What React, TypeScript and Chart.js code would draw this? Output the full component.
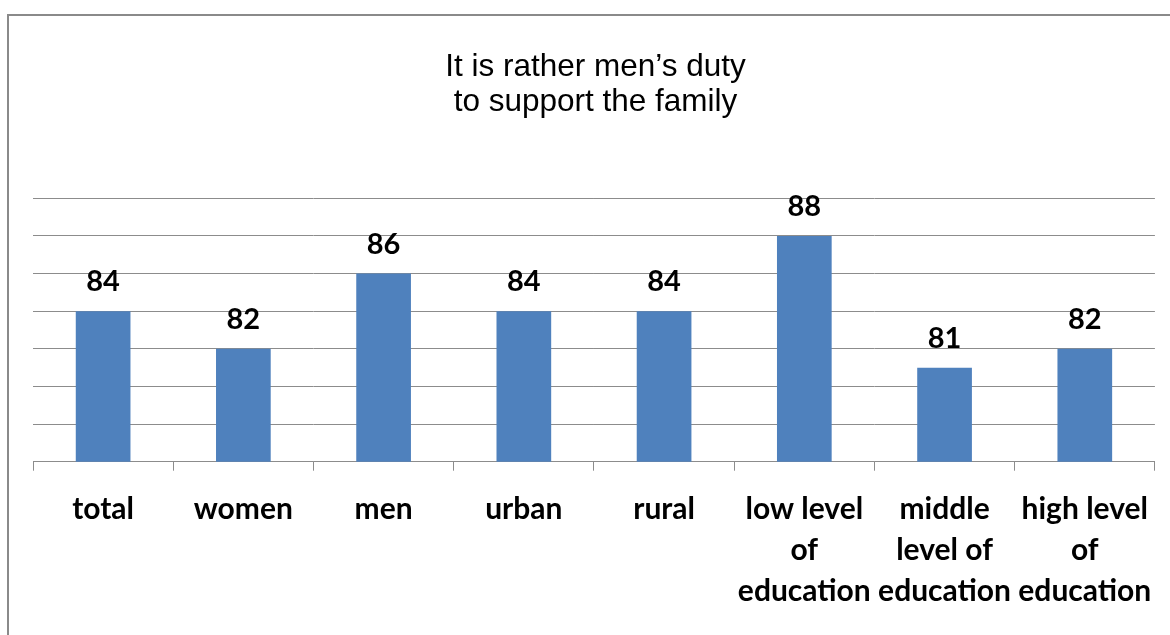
import React, { useEffect, useRef } from "react";
import { Chart, registerables } from "chart.js";

Chart.register(...registerables);

const titleLines = ["It is rather men\u2019s duty", "to support the family"];
const categories: string[][] = [
  ["total"],
  ["women"],
  ["men"],
  ["urban"],
  ["rural"],
  ["low level", "of", "education"],
  ["middle", "level of", "education"],
  ["high level", "of", "education"],
];
const values = [84, 82, 86, 84, 84, 88, 81, 82];
const yMin = 76;
const yMax = 90;
const yStep = 2;

const GRID = "#8c8c8c";

const framePlugin = {
  id: "frame",
  beforeDraw(chart: any) {
    const ctx = chart.ctx;
    ctx.save();
    ctx.strokeStyle = "#8a8a8a";
    ctx.lineWidth = 2;
    ctx.beginPath();
    ctx.moveTo(8, chart.height);
    ctx.lineTo(8, 15);
    ctx.lineTo(chart.width, 15);
    ctx.stroke();
    ctx.restore();
  },
};

const labelPlugin = {
  id: "valueLabels",
  afterDatasetsDraw(chart: any) {
    const ctx = chart.ctx;
    const meta = chart.getDatasetMeta(0);
    ctx.save();
    ctx.font = "bold 29px Lato";
    ctx.fillStyle = "#000";
    ctx.textAlign = "center";
    ctx.textBaseline = "alphabetic";
    meta.data.forEach((bar: any, i: number) => {
      ctx.fillText(String(chart.data.datasets[0].data[i]), bar.x, bar.y - 20);
    });
    ctx.restore();
  },
};

export default function App() {
  const ref = useRef<HTMLCanvasElement>(null);
  useEffect(() => {
    if (!ref.current) return;
    const chart = new Chart(ref.current, {
      type: "bar",
      data: {
        labels: categories,
        datasets: [
          {
            data: values,
            backgroundColor: "#4f81bd",
            borderWidth: 0,
            categoryPercentage: 1,
            barPercentage: 0.39,
          },
        ],
      },
      options: {
        animation: false,
        responsive: false,
        layout: { padding: { left: 33, right: 12, top: 0, bottom: 5 } },
        plugins: {
          legend: { display: false },
          tooltip: { enabled: false },
          title: {
            display: true,
            text: titleLines,
            color: "#000",
            font: { family: "'Liberation Sans', Arial, sans-serif", size: 31.5, weight: "normal", lineHeight: 1.1 },
            padding: { top: 50, bottom: 79 },
          },
        },
        scales: {
          x: {
            grid: {
              display: true,
              drawOnChartArea: false,
              drawTicks: true,
              tickLength: 9,
              tickColor: GRID,
              color: GRID,
            },
            border: { display: true, color: GRID, width: 1 },
            ticks: {
              color: "#000",
              maxRotation: 0,
              minRotation: 0,
              autoSkip: false,
              padding: 18,
              font: { family: "Lato", size: 30, weight: "bold", lineHeight: 1.37 },
            },
          },
          y: {
            min: yMin,
            max: yMax,
            ticks: { display: false, stepSize: yStep },
            grid: { color: GRID, drawTicks: false, lineWidth: 1 },
            border: { display: false },
          },
        },
      },
      plugins: [framePlugin, labelPlugin],
    });
    return () => chart.destroy();
  }, []);
  return (
    <div style={{ position: "fixed", left: 0, top: 0, width: 1170, height: 635, background: "#fff" }}>
      <canvas ref={ref} width={1170} height={635} />
    </div>
  );
}
